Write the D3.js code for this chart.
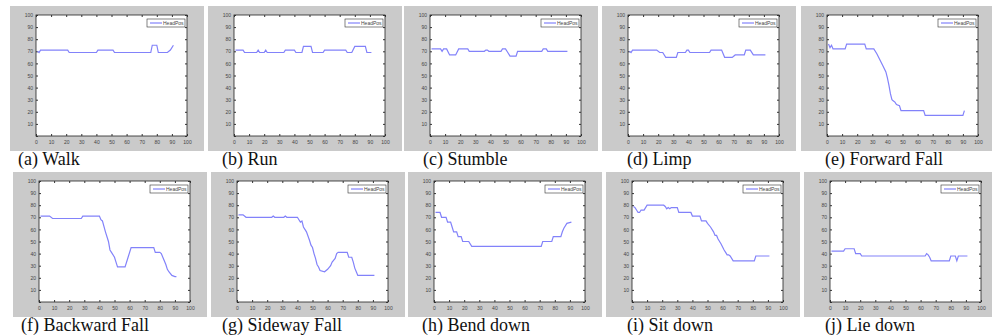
<!DOCTYPE html>
<html>
<head>
<meta charset="utf-8">
<script src="https://cdn.jsdelivr.net/npm/d3@7"></script>
<style>
  body { margin: 0; background: #fff; }
  .tick text { font-family: Arial, "Liberation Sans", sans-serif; fill: #444; }
  .tick line { stroke: #333; }
  .domain { stroke: none; }
  .caption { font-family: "Liberation Serif", "Times New Roman", Times, "DejaVu Serif", serif; }
</style>
</head>
<body>
<div id="chart-area"></div>
<script>
// head position samples (frame index, HeadPos value)
var walkX = [1,2,3,21,22,40,41,51,52,76,77,80,81,87,89,91];
var walkY = [70,69,71,71,69,69,71,71,69,69,75,75,69,69,71,75];

var runX = [1,6,7,15,16,17,20,21,22,33,34,40,41,45,46,51,52,59,60,74,75,78,80,87,88,91];
var runY = [71,71,69,69,71,69,69,71,69,69,71,71,69,69,74,74,69,69,71,71,69,69,74,74,69,69];

var stumbleX = [1,7,8,9,11,13,17,19,25,26,36,37,38,39,47,48,50,51,53,57,58,74,75,77,78,91];
var stumbleY = [72,72,70,72,72,67,67,72,72,70,70,71,71,70,70,72,72,70,66,66,70,70,72,72,70,70];

var limpX = [1,2,3,19,21,23,25,32,33,38,39,40,41,54,55,62,64,69,71,77,78,81,83,91];
var limpY = [70,69,71,71,69,69,65,65,69,69,71,71,69,69,71,71,65,65,67,67,71,71,67,67];

var forwardX = [1,2,3,4,12,13,25,26,31,33,35,37,39,40,41,42,43,44,45,46,48,49,64,65,90,91];
var forwardY = [76,73,75,72,72,76,76,72,72,68,63,58,53,48,42,35,30,29,28,26,25,21,21,17,17,21];

var backwardX = [1,7,9,28,29,40,41,42,44,46,47,48,50,51,52,57,59,61,76,77,80,81,82,84,85,86,88,90,91];
var backwardY = [71,71,69,69,71,71,68,67,58,50,43,41,37,33,29,29,37,45,45,41,41,40,37,31,27,25,22,21,21];

var sidewayX = [1,4,6,23,24,25,31,32,33,40,41,42,43,44,46,48,49,50,51,52,53,54,55,58,60,62,63,65,66,67,73,74,76,77,78,79,80,91];
var sidewayY = [72,72,70,70,71,70,70,71,70,70,68,66,67,62,58,51,47,45,40,36,31,29,26,25,27,30,33,36,40,41,41,37,37,33,28,25,22,22];

var bendX = [1,4,5,8,9,11,12,13,15,16,18,19,23,25,71,72,78,79,84,85,86,88,91];
var bendY = [74,74,70,70,66,66,62,58,58,54,54,50,50,46,46,50,50,54,54,58,61,65,66];

var sitX = [1,2,3,4,5,6,8,9,10,21,22,23,24,25,26,30,31,39,40,45,46,49,50,52,54,55,56,57,59,61,62,63,64,65,67,81,82,91];
var sitY = [79,78,76,74,74,76,76,78,80,80,79,77,78,77,78,78,74,74,71,71,67,67,65,62,58,55,55,52,48,43,41,39,39,38,34,34,38,38];

var lieX = [1,9,10,16,17,20,21,63,64,65,66,67,79,80,83,84,85,91];
var lieY = [42,42,44,44,40,40,38,38,40,39,37,34,34,38,38,34,38,38];

var captions = ["(a) Walk", "(b) Run", "(c) Stumble", "(d) Limp", "(e) Forward Fall",
                "(f) Backward Fall", "(g) Sideway Fall", "(h) Bend down", "(i) Sit down", "(j) Lie down"];
var seriesX = [walkX, runX, stumbleX, limpX, forwardX, backwardX, sidewayX, bendX, sitX, lieX];
var seriesY = [walkY, runY, stumbleY, limpY, forwardY, backwardY, sidewayY, bendY, sitY, lieY];
var legendLabel = "HeadPos";
var ticks = [0,10,20,30,40,50,60,70,80,90,100];

var width = 992, height = 336;
var plotW = 151, plotH = 121;
// plot area left edges per panel (top row then bottom row)
var plotLeft = [36, 234, 430, 628, 827, 39, 237, 434, 632, 830];
var plotTop = [15, 181];
var captionX = [18, 222, 423, 627, 825, 21, 222, 422, 627, 825];
var captionY = [165, 331];

var svg = d3.select("#chart-area").append("svg")
    .attr("width", width)
    .attr("height", height);

var x = d3.scaleLinear().domain([0, 100]).range([0, plotW]);
var y = d3.scaleLinear().domain([0, 100]).range([plotH, 0]);

var line = d3.line()
    .x((d) => { return x(d[0]) })
    .y((d) => { return y(d[1]) });

captions.forEach((cap, i) => {
    var row = i < 5 ? 0 : 1;
    var px = plotLeft[i], py = plotTop[row];

    // grey figure background
    svg.append("rect")
        .attr("x", px - 26)
        .attr("y", py - 9)
        .attr("width", plotW + 43)
        .attr("height", plotH + 24)
        .attr("fill", "#cacaca");

    var g = svg.append("g")
        .attr("transform", "translate(" + px + ", " + py + ")");

    g.append("rect")
        .attr("width", plotW)
        .attr("height", plotH)
        .attr("fill", "#fff")
        .attr("stroke", "#222")
        .attr("stroke-width", 0.8);

    g.append("g")
        .attr("transform", "translate(0, " + plotH + ")")
        .call(d3.axisBottom(x).tickValues(ticks).tickSize(-2).tickPadding(4))
        .selectAll("text").attr("font-size", 5);
    g.append("g")
        .call(d3.axisTop(x).tickValues(ticks).tickSize(-2).tickFormat(""));
    g.append("g")
        .call(d3.axisLeft(y).tickValues(ticks).tickSize(-2).tickPadding(3)
            .tickFormat((d) => { return d === 0 ? "" : d }))
        .selectAll("text").attr("font-size", 5);
    g.append("g")
        .attr("transform", "translate(" + plotW + ", 0)")
        .call(d3.axisRight(y).tickValues(ticks).tickSize(-2).tickFormat(""));

    var pts = seriesX[i].map((v, k) => { return [v, seriesY[i][k]] });
    g.append("path")
        .datum(pts)
        .attr("fill", "none")
        .attr("stroke", "#8282fa")
        .attr("stroke-width", 1.2)
        .attr("d", line);

    // legend
    var lg = g.append("g").attr("transform", "translate(" + (plotW - 40) + ", 4)");
    lg.append("rect")
        .attr("width", 38).attr("height", 8)
        .attr("fill", "#fff").attr("stroke", "#333").attr("stroke-width", 0.6);
    lg.append("line")
        .attr("x1", 3).attr("x2", 15).attr("y1", 4).attr("y2", 4)
        .attr("stroke", "#8282fa").attr("stroke-width", 1.2);
    lg.append("text")
        .attr("x", 16).attr("y", 5.8)
        .attr("font-family", "Arial, 'Liberation Sans', sans-serif")
        .attr("font-size", 5)
        .attr("fill", "#444")
        .text(legendLabel);

    svg.append("text")
        .attr("class", "caption")
        .attr("x", captionX[i])
        .attr("y", captionY[row])
        .attr("font-size", 18)
        .attr("fill", "#111")
        .text(cap);
});
</script>
</body>
</html>
